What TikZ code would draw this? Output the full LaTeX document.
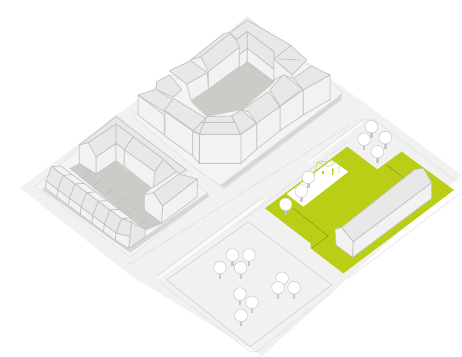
\documentclass[tikz,border=0pt]{standalone}
\definecolor{grnd}{HTML}{F1F1F1}
\definecolor{lot}{HTML}{F4F4F4}
\definecolor{edge}{HTML}{C2C2C2}
\definecolor{wallc}{HTML}{F2F2F2}
\definecolor{roofc}{HTML}{E8E8E8}
\definecolor{court}{HTML}{CBCCC7}
\definecolor{shadowc}{HTML}{D6D6D3}
\definecolor{limeg}{HTML}{B9CE14}
\tikzset{
 wallf/.style={fill=wallc,draw=edge,line width=.7pt,line join=round},
 rooff/.style={fill=roofc,draw=edge,line width=.7pt,line join=round},
 topf/.style={fill=lot,draw=edge,line width=.7pt,line join=round},
 creasel/.style={draw=edge,line width=.7pt},
 lotline/.style={draw=black!12,line width=.5pt},
 dashl/.style={draw=black!20,line width=.4pt,dash pattern=on 2pt off 1.5pt},
 grnline/.style={draw=limeg!70!black,line width=.4pt},
 treec/.style={fill=white,draw=black!22,line width=.5pt},
 trunk/.style={fill=black!22,draw=none},
 zoomA/.style={shift={(130,10)},scale=1/3},
 zoomB/.style={shift={(20,100)},scale=1/3},
 zoomC/.style={shift={(260,110)},scale=1/3},
 zoomD/.style={shift={(130,200)},scale=1/3},
}
\newcommand{\treeat}[2]{%
 \fill[trunk] (#1-3.5,#2+10) rectangle (#1+3.5,#2+33);
 \draw[treec] (#1,#2) circle (19);}
\begin{document}
\begin{tikzpicture}[x=1pt,y=-1pt]
\useasboundingbox (0,0) rectangle (462,356);
% ground
\fill[grnd] (20,188) -- (247,17) -- (462,175) -- (262,356) -- (130,275) -- cycle;
% road marks
\draw[dashl] (130,264) -- (350,125);
\draw[dashl] (240,222) -- (350,140);
% block A plot
\begin{scope}[zoomA]
\draw[lotline,fill=lot] (352,22) -- (635,245) -- (635,268) -- (285,535) -- (195,475) -- (10,320) -- cycle;
\fill[shadowc] (632,250) -- (634,268) -- (285,532) -- (272,525) -- (622,262) -- cycle;
\draw[lotline] (192,470) -- (280,535);
% courtyard
\fill[court] (352,155) -- (435,215) -- (335,300) -- (230,320) -- (183,275) -- cycle;
% back roof strip and inner walls
\draw[rooff] (300,68) -- (352,30) -- (485,107) -- (432,147) -- (432,125) -- (352,65) -- (320,88) -- cycle;
\draw[rooff] (320,88) -- (352,65) -- (352,115) -- (327,135) -- cycle;
\draw[wallf] (327,135) -- (352,115) -- (352,155) -- (327,175) -- cycle;
\draw[rooff] (352,65) -- (432,125) -- (432,178) -- (352,115) -- cycle;
\draw[wallf] (352,115) -- (432,178) -- (432,215) -- (352,155) -- cycle;
% top right dormer
\draw[wallf] (432,147) -- (487,195) -- (487,205) -- (460,195) -- (432,210) -- cycle;
\draw[rooff] (432,147) -- (482,107) -- (530,150) -- (487,195) -- cycle;
\draw[creasel] (445,147) -- (512,150);
% right wing
\draw[rooff] (490,205) -- (545,168) -- (600,195) -- (520,240) -- cycle;
\draw[wallf] (520,240) -- (600,195) -- (600,268) -- (520,315) -- cycle;
\draw[rooff] (420,240) -- (460,193) -- (517,237) -- (450,288) -- cycle;
\draw[wallf] (450,290) -- (520,240) -- (520,315) -- (450,362) -- cycle;
\draw[rooff] (335,300) -- (415,245) -- (450,290) -- (380,340) -- (355,305) -- cycle;
\draw[wallf] (380,340) -- (450,290) -- (450,362) -- (380,418) -- cycle;
% back-left roofs
\draw[wallf] (235,182) -- (328,110) -- (328,170) -- (235,238) -- cycle;
\draw[rooff] (182,150) -- (282,70) -- (298,68) -- (320,92) -- (328,112) -- (235,185) -- (212,140) -- cycle;
\draw[creasel] (212,140) -- (298,72);
\draw[wallf] (170,222) -- (232,188) -- (235,238) -- (183,272) -- cycle;
\draw[rooff] (118,182) -- (182,152) -- (232,188) -- (170,222) -- cycle;
\draw[rooff] (80,215) -- (118,195) -- (155,238) -- (130,262) -- (78,238) -- cycle;
% left wings
\draw[wallf] (24,255) -- (103,315) -- (103,375) -- (24,315) -- cycle;
\draw[rooff] (24,255) -- (78,238) -- (130,270) -- (103,305) -- cycle;
\draw[wallf] (105,305) -- (188,363) -- (188,438) -- (105,378) -- cycle;
\draw[rooff] (103,300) -- (130,265) -- (228,325) -- (190,362) -- cycle;
% front corner
\draw[wallf] (188,365) -- (208,373) -- (208,460) -- (188,438) -- cycle;
\draw[rooff] (190,362) -- (230,320) -- (208,373) -- cycle;
\draw[wallf] (208,373) -- (333,373) -- (333,460) -- (208,460) -- cycle;
\draw[rooff] (230,320) -- (305,318) -- (332,373) -- (208,373) -- cycle;
\draw[creasel] (212,338) -- (322,338);
\draw[wallf] (333,373) -- (380,340) -- (380,418) -- (333,460) -- cycle;
\draw[rooff] (305,318) -- (335,300) -- (378,338) -- (332,373) -- cycle;
\end{scope}
% block B
\begin{scope}[zoomB]
\draw[lotline,fill=lot] (45,260) -- (288,45) -- (568,285) -- (330,470) -- cycle;
\fill[shadowc] (68,262) -- (325,445) -- (562,278) -- (566,290) -- (330,458) -- (70,272) -- cycle;
\fill[court] (148,205) -- (178,190) -- (228,222) -- (285,182) -- (395,265) -- (373,285) -- (423,372) -- (375,392) -- cycle;
\draw[court!88!black,line width=.3pt] (215,212) -- (185,235) (245,237) -- (222,258) (280,265) -- (255,283) (315,293) -- (290,312) (350,320) -- (325,342) (385,350) -- (360,370);
% L-shaped back wings
\draw[rooff] (178,135) -- (288,50) -- (500,210) -- (478,222) -- (430,178) -- (340,110) -- (288,72) -- (205,128) -- cycle;
\draw[rooff] (205,128) -- (288,72) -- (288,130) -- (228,172) -- cycle;
\draw[wallf] (228,172) -- (288,130) -- (288,182) -- (228,222) -- cycle;
\draw[wallf] (178,135) -- (205,128) -- (228,170) -- (228,222) -- (178,190) -- cycle;
\draw[rooff] (288,72) -- (340,110) -- (313,150) -- (288,130) -- cycle;
\draw[wallf] (288,130) -- (313,150) -- (313,200) -- (288,182) -- cycle;
\draw[rooff] (340,110) -- (430,178) -- (405,215) -- (313,150) -- cycle;
\draw[wallf] (313,150) -- (405,215) -- (405,255) -- (395,265) -- (313,200) -- cycle;
\draw[rooff] (430,178) -- (470,215) -- (400,262) -- (405,215) -- cycle;
% end wing
\draw[wallf] (373,285) -- (400,277) -- (428,318) -- (425,370) -- (373,330) -- cycle;
\draw[rooff] (400,277) -- (478,222) -- (532,237) -- (428,318) -- cycle;
\draw[wallf] (428,318) -- (532,237) -- (532,290) -- (425,370) -- cycle;
% row houses
\foreach \k in {0,...,5}{
 \begin{scope}[shift={(\k*35,\k*26)}]
 \draw[topf] (95,200) -- (122,198) -- (157,224) -- (130,226) -- cycle;
 \draw[rooff] (95,200) -- (130,226) -- (113,269) -- (78,243) -- cycle;
 \draw[wallf] (78,243) -- (113,269) -- (111,291) -- (76,265) -- cycle;
 \end{scope}}
\draw[topf] (305,356) -- (332,354) -- (335,367) -- cycle;
\draw[rooff] (305,356) -- (335,367) -- (330,410) -- (288,399) -- cycle;
\draw[wallf] (288,399) -- (330,410) -- (326,445) -- (286,421) -- cycle;
\draw[rooff] (335,367) -- (375,388) -- (375,412) -- (326,445) -- (330,410) -- cycle;
\end{scope}
% tree lot
\begin{scope}[zoomD]
\draw[white,line width=1.6pt] (400,0) -- (85,235);
\draw[lotline] (80,228) -- (400,-10) (85,243) -- (360,455) -- (382,455) -- (605,275);
\draw[lotline,draw=black!20] (355,65) -- (605,255) -- (360,440) -- (110,240) -- cycle;
\treeat{456}{235}\treeat{307}{165}\treeat{357}{165}\treeat{270}{203}\treeat{332}{203}
\treeat{444}{263}\treeat{492}{263}\treeat{330}{282}\treeat{366}{307}\treeat{333}{346}
\end{scope}
% green lot
\begin{scope}[zoomC]
\draw[white,line width=1.4pt] (310,35) -- (150,155);
\draw[lotline] (155,145) -- (310,28) -- (340,28) -- (590,215) (265,505) -- (600,250);
\fill[limeg] (15,295) -- (262,110) -- (352,178) -- (425,125) -- (582,240) -- (250,490) -- (152,415) -- (152,400) -- cycle;
\fill[white] (80,252) -- (215,150) -- (265,185) -- (130,290) -- cycle;
\draw[grnline] (100,295) -- (205,378) -- (155,415) (380,165) -- (460,225);
\draw[limeg!80!white,line width=.5pt] (162,200) -- (172,156) -- (240,152) -- (236,188) (172,156) -- (205,170) -- (240,152);
\fill[limeg] (186,184) rectangle (192,191);
\fill[limeg] (215,176) -- (222,176) -- (220,182) -- (220,195) -- (216,195) -- (216,182) -- cycle;
\treeat{334}{50}\treeat{376}{83}\treeat{312}{88}\treeat{352}{125}
\treeat{145}{202}\treeat{124}{243}\treeat{77}{283}
\draw[wallf] (225,358) -- (245,352) -- (280,395) -- (278,442) -- (228,405) -- cycle;
\draw[rooff] (245,352) -- (465,178) -- (490,175) -- (515,218) -- (280,395) -- cycle;
\draw[wallf] (280,395) -- (515,218) -- (515,265) -- (278,442) -- cycle;
\end{scope}
\end{tikzpicture}
\end{document}
